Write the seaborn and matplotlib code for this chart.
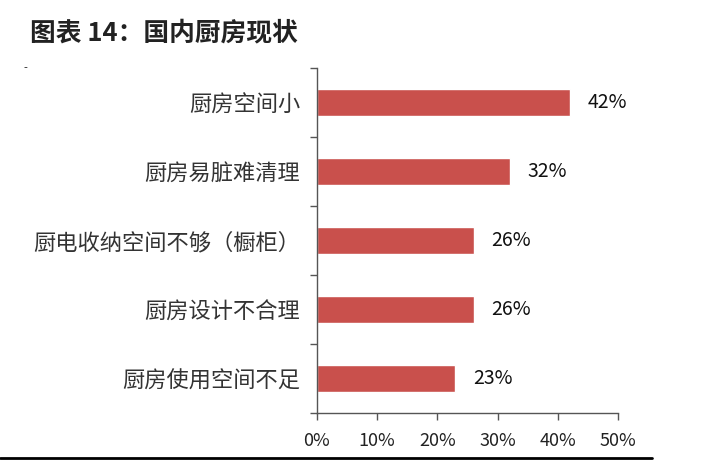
import matplotlib
matplotlib.use("Agg")
import matplotlib.pyplot as plt
import seaborn as sns
import pandas as pd
from matplotlib.lines import Line2D

categories = ["厨房空间小", "厨房易脏难清理", "厨电收纳空间不够（橱柜）", "厨房设计不合理", "厨房使用空间不足"]
values = [42, 32, 26, 26, 23]
xticks = [0, 10, 20, 30, 40, 50]
xticklabels = ["0%", "10%", "20%", "30%", "40%", "50%"]
title = "图表 14：国内厨房现状"

sns.set_theme(style="white")
plt.rcParams['font.family'] = ['Noto Sans CJK SC', 'DejaVu Sans']

df = pd.DataFrame({"cat": categories, "val": values})

fig = plt.figure(figsize=(7.06, 4.70), dpi=100)
ax = fig.add_axes([317/706, 1-413/470, (618-317)/706, (413-68)/470])
sns.barplot(data=df, x="val", y="cat", orient="h", color="#C9504C", saturation=1,
            width=0.4, ax=ax)

ax.set_xlim(0, 50)
ax.set_ylim(len(categories)-0.5, -0.5)
ax.set_xticks(xticks)
ax.set_xticklabels(xticklabels, fontsize=13, color="#222222")
ax.set_xlabel("")
ax.set_ylabel("")
ax.tick_params(axis="y", which="major", length=0, labelsize=16, labelcolor="#333333", pad=12)
ax.set_yticks([i - 0.5 for i in range(len(categories)+1)], minor=True)
ax.tick_params(axis="y", which="minor", length=5, width=1, color="#555555", direction="out", left=True)
ax.tick_params(axis="x", which="major", length=5, width=1, color="#555555", direction="out", bottom=True, pad=9)
for s in ["top", "right"]:
    ax.spines[s].set_visible(False)
for s in ["left", "bottom"]:
    ax.spines[s].set_color("#555555")
    ax.spines[s].set_linewidth(1)

for i, v in enumerate(values):
    ax.text(v + 3, i, f"{v}%", va="center", ha="left", fontsize=14, color="#111111")

fig.text(30/706, 1-33/470, title, fontsize=18.5, fontweight="bold", color="#222222", va="center", ha="left")
fig.text(25/706, 1-68/470, "-", fontsize=8, color="#222222", va="center", ha="center")
fig.add_artist(Line2D([0, 652/706], [1-458/470, 1-458/470], transform=fig.transFigure, color="black", linewidth=2))

fig.savefig("out.png", dpi=100)
